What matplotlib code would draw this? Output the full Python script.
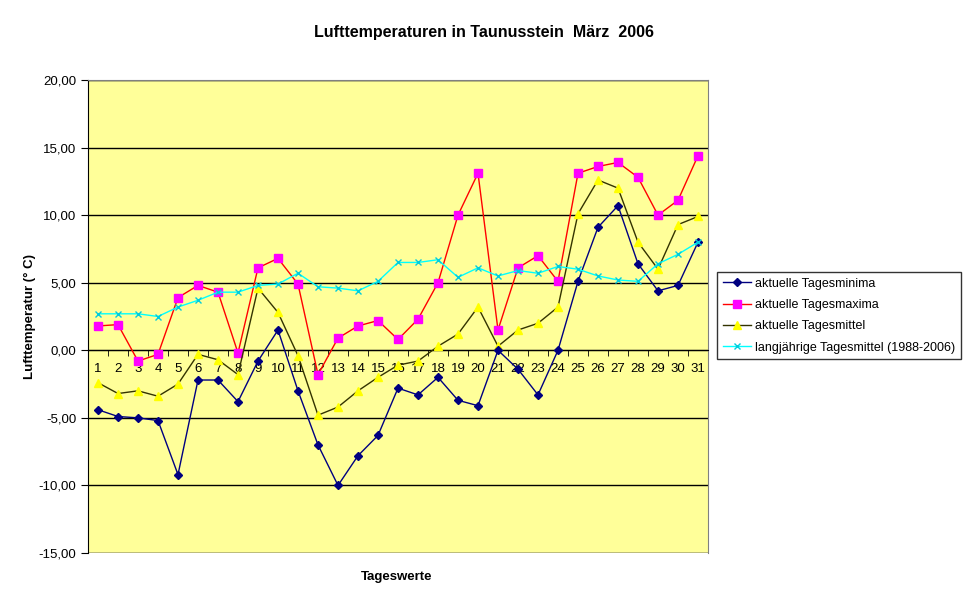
import matplotlib
matplotlib.use('Agg')
import matplotlib.pyplot as plt
from matplotlib.ticker import FuncFormatter, FixedLocator

plt.rcParams['font.family'] = ['Liberation Sans', 'DejaVu Sans']

tage = list(range(1, 32))

minima = [-4.4, -4.9, -5.0, -5.2, -9.2, -2.2, -2.2, -3.8, -0.8, 1.5,
          -3.0, -7.0, -10.0, -7.8, -6.3, -2.8, -3.3, -2.0, -3.7, -4.1,
          0.0, -1.4, -3.3, 0.0, 5.1, 9.1, 10.7, 6.4, 4.4, 4.8, 8.0]
maxima = [1.8, 1.9, -0.8, -0.3, 3.9, 4.8, 4.3, -0.2, 6.1, 6.8,
          4.9, -1.8, 0.9, 1.8, 2.2, 0.8, 2.3, 5.0, 10.0, 13.1,
          1.5, 6.1, 7.0, 5.1, 13.1, 13.6, 13.9, 12.8, 10.0, 11.1, 14.4]
mittel = [-2.4, -3.2, -3.0, -3.4, -2.5, -0.3, -0.7, -1.8, 4.6, 2.8,
          -0.4, -4.8, -4.2, -3.0, -2.0, -1.1, -0.8, 0.3, 1.2, 3.2,
          0.3, 1.5, 2.0, 3.2, 10.1, 12.6, 12.0, 8.0, 6.0, 9.3, 9.9]
langjaehrig = [2.7, 2.7, 2.7, 2.5, 3.2, 3.7, 4.3, 4.3, 4.8, 4.9,
               5.7, 4.7, 4.6, 4.4, 5.1, 6.5, 6.5, 6.7, 5.4, 6.1,
               5.5, 5.9, 5.7, 6.2, 6.0, 5.5, 5.2, 5.1, 6.4, 7.1, 8.0]

fig = plt.figure(figsize=(9.7, 6.04), dpi=100)
ax = fig.add_axes([88 / 970, 1 - 553 / 604, 620 / 970, 473 / 604])
ax.set_facecolor('#FFFF99')

ax.plot(tage, minima, color='#000080', lw=1, marker='D', ms=4.5,
        mfc='#000080', mec='#000080', label='aktuelle Tagesminima', zorder=4)
ax.plot(tage, maxima, color='#FF0000', lw=1, marker='s', ms=6,
        mfc='#FF00FF', mec='#FF00FF', label='aktuelle Tagesmaxima', zorder=3)
ax.plot(tage, mittel, color='#333300', lw=1, marker='^', ms=6,
        mfc='#FFFF00', mec='#FFFF00', label='aktuelle Tagesmittel', zorder=3)
ax.plot(tage, langjaehrig, color='#00FFFF', lw=1, marker='x', ms=5,
        mew=1, mec='#00CCDD', label='langjährige Tagesmittel (1988-2006)', zorder=5)

ax.set_xlim(0.5, 31.5)
ax.set_ylim(-15, 20)
ax.set_yticks(range(-15, 21, 5))
ax.yaxis.set_major_formatter(FuncFormatter(lambda v, p: f'{v:.2f}'.replace('.', ',')))
ax.grid(axis='y', color='black', lw=1)
ax.set_axisbelow(True)

ax.spines['bottom'].set_position(('data', 0))
ax.spines['bottom'].set_color('black')
ax.spines['left'].set_color('black')
for s in ['top', 'right']:
    ax.spines[s].set_color('#808080')

ax.set_xticks(tage)
ax.xaxis.set_minor_locator(FixedLocator([k + 0.5 for k in range(0, 32)]))
ax.tick_params(axis='x', which='major', length=0, pad=9, labelsize=9.5)
ax.tick_params(axis='x', which='minor', length=4, direction='out', color='black')
ax.tick_params(axis='y', length=5, direction='out', labelsize=9.5, color='black')

# Rahmen oben/unten
ax.axhline(20, color='#808080', lw=1)
ax.axhline(-15, color='#808080', lw=1)

ax.set_ylabel('Lufttemperatur (° C)', fontsize=9.5, fontweight='bold', labelpad=2)
fig.text(397 / 970, 1 - 577 / 604, 'Tageswerte', ha='center', va='center',
         fontsize=9.5, fontweight='bold')
fig.text(484 / 970, 1 - 32 / 604, 'Lufttemperaturen in Taunusstein  März  2006',
         ha='center', va='center', fontsize=11.5, fontweight='bold')

leg = fig.legend(loc='upper left', bbox_to_anchor=(717 / 970, 1 - 272 / 604),
                 fontsize=9, frameon=True, fancybox=False, borderaxespad=0,
                 handlelength=2.3, labelspacing=0.75, borderpad=0.45, handletextpad=0.3)
leg.get_frame().set_edgecolor('black')
leg.get_frame().set_linewidth(1)

plt.savefig('out.png', dpi=100)
